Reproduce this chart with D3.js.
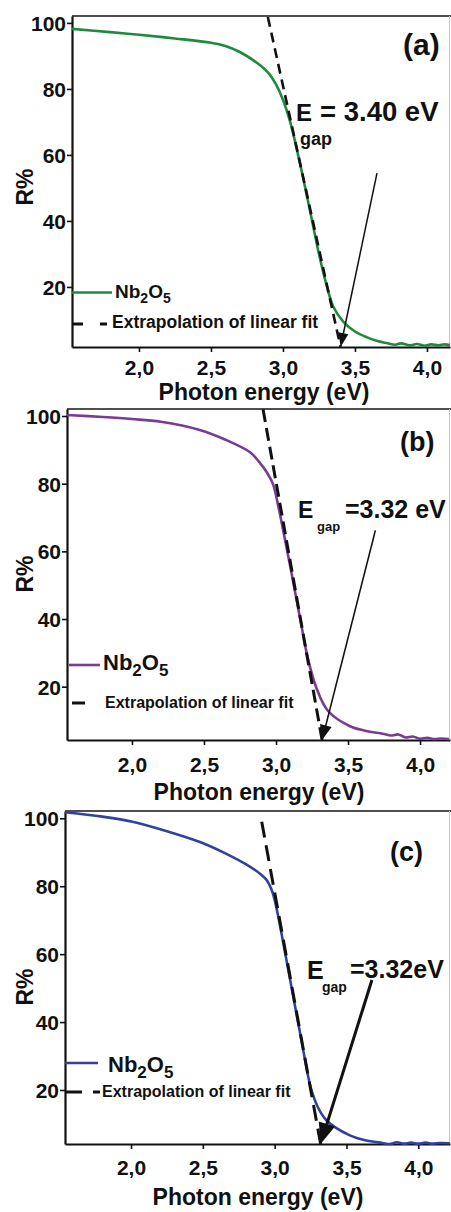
<!DOCTYPE html>
<html>
<head>
<meta charset="utf-8">
<script src="https://cdn.jsdelivr.net/npm/d3@7"></script>
<style>
  html, body { margin: 0; padding: 0; background: #fff; }
  svg { display: block; font-family: "Liberation Sans", Arial, sans-serif; font-weight: bold; }
</style>
</head>
<body>
<svg id="chart" width="451" height="1212"></svg>
<script>
// Diffuse reflectance R% of Nb2O5 samples vs photon energy (eV), three panels

// (a)
const energyA = [1.535, 1.8, 2.0, 2.25, 2.5, 2.6, 2.7, 2.8, 2.9, 2.95, 3.0, 3.05, 3.1, 3.15, 3.2, 3.25, 3.3, 3.35, 3.42, 3.5, 3.58, 3.65, 3.72, 3.78, 3.82, 3.88, 3.93, 3.98, 4.03, 4.08, 4.12, 4.16];
const reflA   = [98.2, 97.2, 96.4, 95.3, 94.0, 93.0, 91.2, 88.5, 84.8, 81.5, 76.7, 70.0, 61.0, 51.0, 40.5, 30.0, 21.0, 14.0, 9.4, 6.5, 4.8, 3.7, 3.0, 2.5, 2.9, 2.3, 2.7, 2.2, 2.6, 2.3, 2.6, 2.4];
const fitEnergyA = [2.895, 3.40];
const fitReflA   = [101.8, 1.8];
const gapA = 3.40;

// (b)
const energyB = [1.55, 1.8, 2.0, 2.2, 2.47, 2.65, 2.82, 2.88, 2.94, 2.98, 3.02, 3.05, 3.1, 3.17, 3.22, 3.28, 3.36, 3.51, 3.62, 3.74, 3.8, 3.85, 3.9, 3.95, 4.0, 4.05, 4.1, 4.15, 4.2];
const reflB   = [100.3, 99.7, 99.1, 98.3, 95.9, 93.0, 89.3, 86.6, 83.1, 79.8, 72.5, 66.2, 55.3, 39.6, 28.6, 19.7, 12.9, 8.4, 7.0, 6.1, 5.6, 5.9, 5.0, 5.3, 4.6, 4.9, 4.5, 4.7, 4.5];
const fitEnergyB = [2.91, 3.32];
const fitReflB   = [102.0, 4.25];
const gapB = 3.32;

// (c)
const energyC = [1.541, 1.8, 2.01, 2.25, 2.48, 2.65, 2.83, 2.9, 2.95, 2.98, 3.0, 3.03, 3.06, 3.13, 3.19, 3.25, 3.3, 3.36, 3.52, 3.63, 3.75, 3.8, 3.85, 3.9, 3.95, 4.0, 4.05, 4.1, 4.15, 4.22];
const reflC   = [101.8, 100.5, 99.0, 96.2, 93.0, 89.8, 85.7, 83.6, 81.5, 78.8, 76.0, 70.0, 63.3, 47.4, 33.8, 20.9, 15.0, 11.1, 6.7, 5.2, 4.4, 4.1, 4.6, 4.2, 4.5, 4.2, 4.5, 4.2, 4.4, 4.3];
const fitEnergyC = [2.91, 3.32];
const fitReflC   = [99.0, 4.1];
const gapC = 3.32;

// shared ticks
const xTicks      = [2.0, 2.5, 3.0, 3.5, 4.0];
const xMinorTicks = [1.75, 2.25, 2.75, 3.25, 3.75];
const yTicks      = [20, 40, 60, 80, 100];
const yMinorTicks = [10, 30, 50, 70, 90];

const xTitle = "Photon energy (eV)";
const yTitle = "R%";
const seriesName = ["Nb", "2", "O", "5"];
const fitName = "Extrapolation of linear fit";

const fmtTick = d => d3.format(".1f")(d).replace(".", ",");

const panels = [
  {
    tag: "(a)", energy: energyA, refl: reflA, fitE: fitEnergyA, fitR: fitReflA, gap: gapA,
    gapText: v => "= " + v.toFixed(2) + " eV",
    color: "#1f8a3e",
    left: 72, right: 450, top: 16, bottom: 347,
    xDomain: [1.535, 4.16], yDomain: [1.8, 102.1],
    xLabelY: 28, titleY: 400, titleX: 264, yTitleY: 187,
    tagPos: [403, 55, 30],
    eText: { ex: 296, ey: 121, es: 24, gx: 300, gy: 145, gs: 18, rx: 320, ry: 121, rs: 27.5 },
    arrowFrom: [3.653, 54.5], arrowW: 1.5, headL: 14, headW: 5,
    fitDash: "10,6", fitW: 2.6,
    legLine: [72, 112, 292.5], legText: [115, 298, 19, 14, 5],
    legDash: [72, 107, 324, "11,17"], legDashText: [112, 328, 17.5]
  },
  {
    tag: "(b)", energy: energyB, refl: reflB, fitE: fitEnergyB, fitR: fitReflB, gap: gapB,
    gapText: v => "=" + v.toFixed(2) + " eV",
    color: "#7a3b92",
    left: 67, right: 450, top: 409, bottom: 740,
    xDomain: [1.549, 4.208], yDomain: [4.25, 102.07],
    xLabelY: 32, titleY: 800, titleX: 259, yTitleY: 574,
    tagPos: [400, 451, 27],
    eText: { ex: 298, ey: 518, es: 23, gx: 317, gy: 531, gs: 13, rx: 345, ry: 518, rs: 25 },
    arrowFrom: [3.69, 66.2], arrowW: 1.6, headL: 15, headW: 6,
    fitDash: "13,6", fitW: 3,
    legLine: [69, 100, 665], legText: [103, 670, 22, 17, 6],
    legDash: [72, 85, 703, null], legDashText: [105, 708, 16]
  },
  {
    tag: "(c)", energy: energyC, refl: reflC, fitE: fitEnergyC, fitR: fitReflC, gap: gapC,
    gapText: v => "=" + v.toFixed(2) + "eV",
    color: "#33419e",
    left: 65, right: 450, top: 811, bottom: 1144,
    xDomain: [1.5405, 4.2206], yDomain: [4.1, 102.15],
    xLabelY: 31, titleY: 1205, titleX: 258, yTitleY: 987,
    tagPos: [390, 861, 27],
    eText: { ex: 307, ey: 979, es: 25, gx: 322, gy: 992, gs: 14, rx: 350, ry: 978, rs: 25 },
    arrowFrom: [3.677, 52.4], arrowW: 3, headL: 21, headW: 8.5,
    fitDash: "16,8", fitW: 3,
    legLine: [65, 98, 1063], legText: [108, 1072, 22, 17, 6],
    legDash: [65, 100, 1092, "17,11"], legDashText: [102, 1097, 16]
  }
];

const svg = d3.select("#chart");
svg.append("rect").attr("width", 451).attr("height", 1212).attr("fill", "#fff");

panels.forEach(p => {
  const g = svg.append("g");
  const x = d3.scaleLinear().domain(p.xDomain).range([p.left, p.right]);
  const y = d3.scaleLinear().domain(p.yDomain).range([p.bottom, p.top]);

  // frame: top and right edges
  g.append("line")
    .attr("x1", p.left).attr("x2", 451).attr("y1", p.top).attr("y2", p.top)
    .attr("stroke", "#151515").attr("stroke-width", 1.7);
  g.append("line")
    .attr("x1", p.right - 0.5).attr("x2", p.right - 0.5).attr("y1", p.top).attr("y2", p.bottom)
    .attr("stroke", "#c8c8c8").attr("stroke-width", 1);

  // x axis
  const gx = g.append("g").attr("transform", `translate(0,${p.bottom})`);
  gx.call(d3.axisBottom(x).tickValues(xMinorTicks).tickSize(3).tickSizeOuter(0).tickFormat(""));
  gx.call(d3.axisBottom(x).tickValues(xTicks).tickSize(5).tickSizeOuter(0).tickFormat(fmtTick));
  gx.selectAll(".domain").attr("stroke", "#111").attr("stroke-width", 2.2);
  gx.selectAll(".tick line").attr("stroke", "#111").attr("stroke-width", 1.6);
  gx.selectAll(".tick text")
    .attr("y", p.xLabelY).attr("dy", 0)
    .attr("font-size", 21).attr("font-weight", "bold").attr("fill", "#111")
    .attr("font-family", "Liberation Sans, Arial, sans-serif");

  // y axis
  const gy = g.append("g").attr("transform", `translate(${p.left},0)`);
  gy.call(d3.axisLeft(y).tickValues(yMinorTicks).tickSize(3).tickSizeOuter(0).tickFormat(""));
  gy.call(d3.axisLeft(y).tickValues(yTicks).tickSize(5).tickSizeOuter(0).tickFormat(d3.format("d")));
  gy.selectAll(".domain").attr("stroke", "#111").attr("stroke-width", 2.2);
  gy.selectAll(".tick line").attr("stroke", "#111").attr("stroke-width", 1.6);
  gy.selectAll(".tick text")
    .attr("x", -6).attr("dy", "0.36em")
    .attr("font-size", 21).attr("font-weight", "bold").attr("fill", "#111")
    .attr("font-family", "Liberation Sans, Arial, sans-serif");

  // axis titles
  g.append("text")
    .attr("x", p.titleX).attr("y", p.titleY)
    .attr("text-anchor", "middle").attr("font-size", 23).attr("fill", "#111")
    .text(xTitle);
  g.append("text")
    .attr("transform", `translate(33,${p.yTitleY}) rotate(-90)`)
    .attr("text-anchor", "middle").attr("font-size", 23).attr("fill", "#111")
    .text(yTitle);

  // reflectance curve
  const line = d3.line().x(d => x(d[0])).y(d => y(d[1])).curve(d3.curveCatmullRom.alpha(0.5));
  g.append("path")
    .datum(p.energy.map((e, i) => [e, p.refl[i]]))
    .attr("d", line)
    .attr("fill", "none").attr("stroke", p.color).attr("stroke-width", 2.6)
    .attr("stroke-linejoin", "round");

  // extrapolated linear fit
  g.append("path")
    .datum(p.fitE.map((e, i) => [e, p.fitR[i]]))
    .attr("d", d3.line().x(d => x(d[0])).y(d => y(d[1])))
    .attr("fill", "none").attr("stroke", "#111").attr("stroke-width", p.fitW)
    .attr("stroke-dasharray", p.fitDash);

  // arrow pointing at the band gap on the energy axis
  const tail = [x(p.arrowFrom[0]), y(p.arrowFrom[1])];
  const tip = [x(p.gap), y(p.yDomain[0])];
  const ang = Math.atan2(tip[1] - tail[1], tip[0] - tail[0]);
  const ux = Math.cos(ang), uy = Math.sin(ang);
  const base = [tip[0] - ux * p.headL, tip[1] - uy * p.headL];
  g.append("line")
    .attr("x1", tail[0]).attr("y1", tail[1])
    .attr("x2", base[0] + ux * 2).attr("y2", base[1] + uy * 2)
    .attr("stroke", "#111").attr("stroke-width", p.arrowW);
  g.append("path")
    .attr("d", `M${tip[0]},${tip[1]} L${base[0] - uy * p.headW},${base[1] + ux * p.headW} L${base[0] + uy * p.headW},${base[1] - ux * p.headW} Z`)
    .attr("fill", "#111");

  // band gap label
  const t = p.eText;
  g.append("text").attr("x", t.ex).attr("y", t.ey).attr("font-size", t.es).attr("fill", "#111").text("E");
  g.append("text").attr("x", t.gx).attr("y", t.gy).attr("font-size", t.gs).attr("fill", "#111").text("gap");
  g.append("text").attr("x", t.rx).attr("y", t.ry).attr("font-size", t.rs).attr("fill", "#111").text(p.gapText(p.gap));

  // panel tag
  g.append("text")
    .attr("x", p.tagPos[0]).attr("y", p.tagPos[1]).attr("font-size", p.tagPos[2]).attr("fill", "#111")
    .text(p.tag);

  // legend
  g.append("line")
    .attr("x1", p.legLine[0]).attr("x2", p.legLine[1]).attr("y1", p.legLine[2]).attr("y2", p.legLine[2])
    .attr("stroke", p.color).attr("stroke-width", 2.6);
  const lt = g.append("text")
    .attr("x", p.legText[0]).attr("y", p.legText[1]).attr("font-size", p.legText[2]).attr("fill", "#111");
  seriesName.forEach((s, i) => {
    const sub = i % 2 === 1;
    lt.append("tspan")
      .attr("font-size", sub ? p.legText[3] : p.legText[2])
      .attr("dy", sub ? p.legText[4] : (i === 0 ? 0 : -p.legText[4]))
      .text(s);
  });
  const ld = g.append("line")
    .attr("x1", p.legDash[0]).attr("x2", p.legDash[1]).attr("y1", p.legDash[2]).attr("y2", p.legDash[2])
    .attr("stroke", "#111").attr("stroke-width", 3);
  if (p.legDash[3]) ld.attr("stroke-dasharray", p.legDash[3]);
  g.append("text")
    .attr("x", p.legDashText[0]).attr("y", p.legDashText[1]).attr("font-size", p.legDashText[2]).attr("fill", "#111")
    .text(fitName);
});
</script>
</body>
</html>
